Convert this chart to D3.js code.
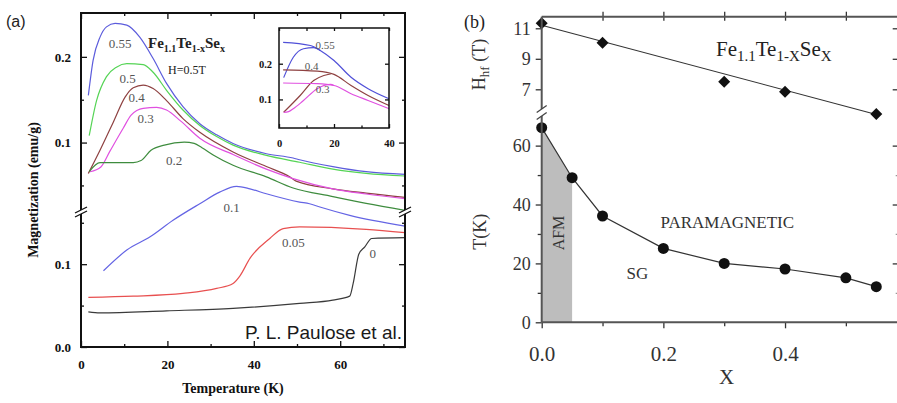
<!DOCTYPE html>
<html>
<head>
<meta charset="utf-8">
<script src="https://cdn.jsdelivr.net/npm/d3@7"></script>
<style>
  body { margin: 0; background: #fff; }
  svg { display: block; }
  .sf { font-family: "Liberation Serif", "DejaVu Serif", "Times New Roman", serif; }
  .ss { font-family: "Liberation Sans", Arial, sans-serif; }
</style>
</head>
<body>
<svg id="fig" width="897" height="403"></svg>
<script>
// ---- panel (a) data: [T (K), M (emu/g)] ----
// upper (broken) section
const c055 = [[1.7,0.155],[2.8,0.196],[4.4,0.223],[5.9,0.235],[7.9,0.239],[10.6,0.237],[13.6,0.223],[16.7,0.198],[19.8,0.169],[23.6,0.142],[27.5,0.122],[31.4,0.109],[35.2,0.099],[42.9,0.087],[49.1,0.082],[50.6,0.080],[58.3,0.072],[66,0.066],[75,0.063]];
const c05  = [[1.9,0.108],[3.6,0.149],[5.9,0.177],[8.2,0.188],[10.6,0.192],[14.4,0.191],[16.7,0.182],[19.8,0.161],[23.6,0.138],[27.5,0.120],[31.4,0.107],[35.2,0.097],[42.9,0.085],[50.6,0.077],[58.3,0.069],[66,0.064],[75,0.061]];
const c04  = [[1.7,0.064],[4.4,0.091],[7.5,0.124],[10.2,0.153],[12.1,0.164],[14.4,0.167],[16.7,0.163],[19.8,0.149],[23.6,0.128],[27.5,0.112],[35.2,0.089],[42.9,0.072],[48.3,0.060],[49.8,0.055],[58.3,0.046],[66,0.041],[75,0.036]];
const c03  = [[2.1,0.066],[4.6,0.0715],[6.7,0.090],[9.8,0.117],[11.6,0.132],[14.4,0.140],[17.5,0.141],[19.8,0.138],[23.1,0.125],[27.5,0.105],[35.2,0.086],[42.9,0.069],[49.1,0.058],[58.3,0.046],[66,0.040],[75,0.0345]];
const c02  = [[1.9,0.066],[4.4,0.0765],[12.1,0.0766],[13.9,0.079],[16.2,0.091],[19.3,0.097],[23.9,0.1005],[26.2,0.099],[28,0.094],[30.8,0.085],[35.2,0.0735],[42.9,0.060],[49.1,0.047],[58.3,0.037],[66,0.029],[75,0.021]];
// lower section
const c01  = [[5.2,0.092],[10.6,0.117],[16,0.133],[21.3,0.153],[27.5,0.173],[32.1,0.187],[36,0.194],[39.1,0.191],[42.9,0.185],[50.6,0.175],[52.9,0.173],[55.3,0.169],[62.2,0.159],[75,0.146]];
const c005 = [[1.7,0.060],[12.1,0.0614],[23.6,0.0647],[31.4,0.0707],[35.2,0.0767],[36.8,0.086],[39.1,0.107],[43.7,0.131],[46.8,0.143],[50.6,0.145],[66,0.142],[75,0.138]];
const c0   = [[1.7,0.0425],[4.4,0.0413],[19.8,0.0437],[35.2,0.0466],[50.6,0.0526],[58.3,0.0566],[62.2,0.0614],[63,0.0767],[64.3,0.112],[65.7,0.121],[67.3,0.131],[75,0.132]];

// inset: field-cooled / zero-field-cooled
const i055fc  = [[1.5,0.26],[11.4,0.251],[15,0.237],[20,0.209],[26.2,0.162],[32.4,0.130],[40,0.102]];
const i055zfc = [[1.7,0.161],[5.2,0.218],[8.9,0.242],[12.6,0.245],[15,0.237]];
const i04fc   = [[1.5,0.183],[13.9,0.179],[20,0.170],[26.2,0.139],[32.4,0.111],[40,0.083]];
const i04zfc  = [[1.7,0.064],[7.7,0.111],[12.6,0.153],[16.3,0.167],[19,0.172]];
const i03fc   = [[1.5,0.146],[13.9,0.144],[20,0.139],[26.2,0.116],[32.4,0.097],[40,0.074]];
const i03zfc  = [[1.7,0.064],[3.5,0.066],[5.2,0.074],[8.9,0.097],[13.9,0.130],[18.8,0.142],[20,0.139]];

const tempTicksA = [0, 20, 40, 60];
const tempMinorA = [10, 30, 50, 70];

// ---- panel (b) data ----
const xHf = [0, 0.1, 0.3, 0.4, 0.55];
const hHf = [11.33, 10.06, 7.5, 6.84, 5.38];
const hfFit = [[0, 11.2], [0.55, 5.35]];
const xTc = [0, 0.05, 0.1, 0.2, 0.3, 0.4, 0.5, 0.55];
const tTc = [66.1, 49.1, 36.1, 25.1, 20.0, 18.1, 15.1, 12.1];
const afmEdge = 0.05;

const svg = d3.select("#fig");
svg.append("rect").attr("width", 897).attr("height", 403).attr("fill", "#fff");

function tidy(g, size, weight, color) {
  g.attr("font-family", null);
  g.select(".domain").remove();
  g.selectAll("line").attr("stroke", color || "#111").attr("stroke-width", 1.3);
  g.selectAll("text").attr("class", "sf").style("font-size", size + "px")
    .style("font-weight", weight || "normal").attr("fill", color || "#111");
  return g;
}
function txt(g, x, y, s, size, opts) {
  opts = opts || {};
  const t = g.append("text").attr("class", opts.sans ? "ss" : "sf")
    .style("font-size", size + "px").style("font-weight", opts.bold ? "bold" : "normal")
    .attr("fill", opts.color || "#222").attr("text-anchor", opts.anchor || "start");
  if (opts.rot) t.attr("transform", `translate(${x},${y}) rotate(-90)`);
  else t.attr("x", x).attr("y", y);
  if (opts.dy) t.attr("dy", opts.dy);
  if (s) t.text(s);
  return t;
}

// ================= panel (a) =================
const xa = d3.scaleLinear().domain([0, 75]).range([81, 405]);
const yaUp = d3.scaleLinear().domain([0.019, 0.25]).range([212, 14]);
const yaLo = d3.scaleLinear().domain([0, 0.163]).range([347, 212]);

const A = svg.append("g");
A.append("clipPath").attr("id", "clipA").append("rect")
  .attr("x", 81).attr("y", 13).attr("width", 324).attr("height", 334);

const upper = [
  {d: c055, c: "#5c5cdc"}, {d: c05, c: "#55d455"}, {d: c04, c: "#8e4141"},
  {d: c03, c: "#e050e0"}, {d: c02, c: "#3e8c3e"}
];
const lower = [
  {d: c01, c: "#6464e4"}, {d: c005, c: "#e85050"}, {d: c0, c: "#3a3a3a"}
];
const lineUp = d3.line().x(d => xa(d[0])).y(d => yaUp(d[1])).curve(d3.curveMonotoneX);
const lineLo = d3.line().x(d => xa(d[0])).y(d => yaLo(d[1])).curve(d3.curveMonotoneX);
const curves = A.append("g").attr("clip-path", "url(#clipA)");
upper.forEach(s => curves.append("path").attr("d", lineUp(s.d)).attr("fill", "none")
  .attr("stroke", s.c).attr("stroke-width", 1.2));
lower.forEach(s => curves.append("path").attr("d", lineLo(s.d)).attr("fill", "none")
  .attr("stroke", s.c).attr("stroke-width", 1.2));

// axes of (a)
tidy(A.append("g").attr("transform", "translate(0,347)")
  .call(d3.axisBottom(xa).tickValues(tempTicksA).tickSize(-6).tickPadding(13)), 13, "bold");
tidy(A.append("g").attr("transform", "translate(0,347)")
  .call(d3.axisBottom(xa).tickValues(tempMinorA).tickSize(-3).tickFormat("")));
tidy(A.append("g").attr("transform", "translate(0,13)")
  .call(d3.axisTop(xa).tickValues(tempTicksA).tickSize(-6).tickFormat("")));
tidy(A.append("g").attr("transform", "translate(0,13)")
  .call(d3.axisTop(xa).tickValues(tempMinorA).tickSize(-3).tickFormat("")));
[[yaLo, [0, 0.1], [0.05, 0.15]], [yaUp, [0.1, 0.2], [0.05, 0.15]]].forEach(([sc, maj, mn]) => {
  tidy(A.append("g").attr("transform", "translate(81,0)")
    .call(d3.axisLeft(sc).tickValues(maj).tickSize(-6).tickPadding(10).tickFormat(d3.format(".1f"))), 13, "bold");
  tidy(A.append("g").attr("transform", "translate(81,0)")
    .call(d3.axisLeft(sc).tickValues(mn).tickSize(-3).tickFormat("")));
  tidy(A.append("g").attr("transform", "translate(405,0)")
    .call(d3.axisRight(sc).tickValues(maj).tickSize(-6).tickFormat("")));
  tidy(A.append("g").attr("transform", "translate(405,0)")
    .call(d3.axisRight(sc).tickValues(mn).tickSize(-3).tickFormat("")));
});
A.append("rect").attr("x", 81).attr("y", 13).attr("width", 324).attr("height", 334)
  .attr("fill", "none").attr("stroke", "#111").attr("stroke-width", 2);

function breakMark(g, x0, y0, w, h, gap, sw) {
  g.append("polygon")
    .attr("points", [[x0 - w, y0 + h], [x0 + w, y0 - h], [x0 + w, y0 - h + gap], [x0 - w, y0 + h + gap]].join(" "))
    .attr("fill", "#fff");
  [0, gap].forEach(o => g.append("line")
    .attr("x1", x0 - w).attr("y1", y0 + h + o).attr("x2", x0 + w).attr("y2", y0 - h + o)
    .attr("stroke", "#111").attr("stroke-width", sw));
}
breakMark(A, 81, 210, 6, 3, 4, 1.3);
breakMark(A, 405, 210, 6, 3, 4, 1.3);

// inset
const xi = d3.scaleLinear().domain([0, 40]).range([279, 389]);
const yi = d3.scaleLinear().domain([0.02, 0.3]).range([128, 28]);
A.append("rect").attr("x", 279).attr("y", 28).attr("width", 110).attr("height", 100).attr("fill", "#fff");
const lineI = d3.line().x(d => xi(d[0])).y(d => yi(d[1])).curve(d3.curveMonotoneX);
[[i055fc, "#5050d8"], [i055zfc, "#5050d8"], [i04fc, "#8e4141"], [i04zfc, "#8e4141"],
 [i03fc, "#e050e0"], [i03zfc, "#e050e0"]].forEach(([d, c]) =>
  A.append("path").attr("d", lineI(d)).attr("fill", "none").attr("stroke", c).attr("stroke-width", 1.2));
tidy(A.append("g").attr("transform", "translate(0,128)")
  .call(d3.axisBottom(xi).tickValues([0, 20, 40]).tickSize(-4).tickPadding(12)), 10.5, "bold");
tidy(A.append("g").attr("transform", "translate(0,128)")
  .call(d3.axisBottom(xi).tickValues([10, 30]).tickSize(-2.5).tickFormat("")));
tidy(A.append("g").attr("transform", "translate(0,28)")
  .call(d3.axisTop(xi).tickValues([0, 10, 20, 30, 40]).tickSize(-3).tickFormat("")));
tidy(A.append("g").attr("transform", "translate(279,0)")
  .call(d3.axisLeft(yi).tickValues([0.1, 0.2]).tickSize(-4).tickPadding(7).tickFormat(d3.format(".1f"))), 10.5, "bold");
tidy(A.append("g").attr("transform", "translate(389,0)")
  .call(d3.axisRight(yi).tickValues([0.1, 0.2]).tickSize(-4).tickFormat("")));
A.append("rect").attr("x", 279).attr("y", 28).attr("width", 110).attr("height", 100)
  .attr("fill", "none").attr("stroke", "#111").attr("stroke-width", 1.5);

// labels (a)
const labA = [["0.55", 120, 43], ["0.5", 127.7, 78], ["0.4", 136.7, 97], ["0.3", 145.7, 118],
  ["0.2", 174, 160], ["0.1", 231.7, 207], ["0.05", 293.3, 242], ["0", 372.7, 253]];
labA.forEach(([t, x, y]) => txt(A, x, y, t, 13, {anchor: "middle", dy: "0.35em", color: "#555"}));
[["0.55", 325, 45], ["0.4", 311.7, 66], ["0.3", 322.7, 89]].forEach(([t, x, y]) =>
  txt(A, x, y, t, 11, {anchor: "middle", dy: "0.35em", color: "#555"}));

const ttl = txt(A, 148, 48, null, 15, {bold: true});
ttl.append("tspan").text("Fe");
ttl.append("tspan").style("font-size", "10px").attr("dy", 4).text("1.1");
ttl.append("tspan").attr("dy", -4).text("Te");
ttl.append("tspan").style("font-size", "10px").attr("dy", 4).text("1-x");
ttl.append("tspan").attr("dy", -4).text("Se");
ttl.append("tspan").style("font-size", "10px").attr("dy", 4).text("x");
txt(A, 168, 74, "H=0.5T", 12);

txt(A, 233, 393, "Temperature (K)", 14, {anchor: "middle", bold: true, color: "#111"});
txt(A, 38, 190, "Magnetization (emu/g)", 14, {anchor: "middle", bold: true, color: "#111", rot: true});
txt(A, 402, 339, "P. L. Paulose et al.", 19, {anchor: "end", sans: true, color: "#1a1a1a"});
txt(A, 6, 27, "(a)", 16, {sans: true});

// ================= panel (b) =================
const xb = d3.scaleLinear().domain([0, 0.6]).range([541.7, 906.7]);
const ybH = d3.scaleLinear().domain([5.84, 11.76]).range([107, 16.7]);
const ybT = d3.scaleLinear().domain([0, 68.7]).range([322.3, 120]);
const B = svg.append("g");
const ink = "#333";

const tcPts = xTc.map((x, i) => [x, tTc[i]]);
const afmPts = tcPts.filter(d => d[0] <= afmEdge);
B.append("path").attr("d", d3.area().x(d => xb(d[0])).y0(ybT(0)).y1(d => ybT(d[1]))(afmPts))
  .attr("fill", "#bdbdbd");

B.append("path").attr("d", d3.line().x(d => xb(d[0])).y(d => ybT(d[1]))(tcPts))
  .attr("fill", "none").attr("stroke", ink).attr("stroke-width", 1.2);
B.selectAll("circle.tc").data(tcPts).join("circle").attr("class", "tc")
  .attr("cx", d => xb(d[0])).attr("cy", d => ybT(d[1])).attr("r", 5.5).attr("fill", "#111");

B.append("path").attr("d", d3.line().x(d => xb(d[0])).y(d => ybH(d[1]))(hfFit))
  .attr("fill", "none").attr("stroke", ink).attr("stroke-width", 1.1);
const diamond = d3.symbol(d3.symbolSquare, 72);
B.selectAll("path.hf").data(xHf.map((x, i) => [x, hHf[i]])).join("path").attr("class", "hf")
  .attr("d", diamond).attr("fill", "#111")
  .attr("transform", d => `translate(${xb(d[0])},${ybH(d[1])}) rotate(45)`);

// axes of (b)
tidy(B.append("g").attr("transform", "translate(0,322.3)")
  .call(d3.axisBottom(xb).tickValues([0, 0.2, 0.4]).tickSize(6).tickPadding(18).tickFormat(d3.format(".1f"))), 21, "normal", ink);
tidy(B.append("g").attr("transform", "translate(0,322.3)")
  .call(d3.axisBottom(xb).tickValues([0.1, 0.3, 0.5]).tickSize(4).tickFormat("")), 0, "normal", ink);
tidy(B.append("g").attr("transform", "translate(0,20.7)")
  .call(d3.axisTop(xb).tickValues([0.1, 0.2, 0.3, 0.4, 0.5]).tickSize(9).tickFormat("")), 0, "normal", ink);
tidy(B.append("g").attr("transform", "translate(541.7,0)")
  .call(d3.axisLeft(ybH).tickValues([7, 9, 11]).tickSize(6).tickPadding(5).tickFormat(d3.format("d"))), 18, "normal", ink);
tidy(B.append("g").attr("transform", "translate(541.7,0)")
  .call(d3.axisLeft(ybT).tickValues([0, 20, 40, 60]).tickSize(6).tickPadding(5).tickFormat(d3.format("d"))), 18, "normal", ink);
tidy(B.append("g").attr("transform", "translate(541.7,0)")
  .call(d3.axisLeft(ybT).tickValues([10, 30, 50]).tickSize(4).tickFormat("")), 0, "normal", ink);
// right axis sits just beyond the cropped edge
tidy(B.append("g").attr("transform", "translate(906.7,0)")
  .call(d3.axisLeft(ybH).tickValues([7, 9, 11]).tickSize(14).tickFormat("")), 0, "normal", ink);
tidy(B.append("g").attr("transform", "translate(906.7,0)")
  .call(d3.axisLeft(ybT).tickValues([20, 40, 60]).tickSize(14).tickFormat("")), 0, "normal", ink);
tidy(B.append("g").attr("transform", "translate(906.7,0)")
  .call(d3.axisLeft(ybT).tickValues([10, 30, 50]).tickSize(11).tickFormat("")), 0, "normal", "#999");

B.append("line").attr("x1", 541.7).attr("x2", 897).attr("y1", 322.3).attr("y2", 322.3)
  .attr("stroke", "#555").attr("stroke-width", 2);
B.append("line").attr("x1", 541.7).attr("x2", 897).attr("y1", 16.7).attr("y2", 16.7)
  .attr("stroke", "#555").attr("stroke-width", 2);
B.append("line").attr("x1", 541.7).attr("x2", 541.7).attr("y1", 16.7).attr("y2", 109)
  .attr("stroke", "#555").attr("stroke-width", 2);
B.append("line").attr("x1", 541.7).attr("x2", 541.7).attr("y1", 116).attr("y2", 322.3)
  .attr("stroke", "#555").attr("stroke-width", 2);
[109, 116].forEach(y => B.append("line").attr("x1", 536.7).attr("y1", y + 3.5)
  .attr("x2", 546.7).attr("y2", y - 3.5).attr("stroke", "#444").attr("stroke-width", 1.3));

// labels (b)
txt(B, 464, 28, "(b)", 18);
const fb = txt(B, 716, 56, null, 21);
fb.append("tspan").text("Fe");
fb.append("tspan").style("font-size", "15px").attr("dy", 5).text("1.1");
fb.append("tspan").attr("dy", -5).text("Te");
fb.append("tspan").style("font-size", "15px").attr("dy", 5).text("1-X");
fb.append("tspan").attr("dy", -5).text("Se");
fb.append("tspan").style("font-size", "15px").attr("dy", 5).text("X");

const hl = txt(B, 485, 64.5, null, 18, {anchor: "middle", rot: true, color: ink});
hl.append("tspan").text("H");
hl.append("tspan").style("font-size", "13px").attr("dy", 4).text("hf");
hl.append("tspan").attr("dy", -4).text(" (T)");
txt(B, 486, 231.7, "T(K)", 18, {anchor: "middle", rot: true, color: ink});
txt(B, 564, 233, "AFM", 16, {anchor: "middle", rot: true, color: ink});
txt(B, 727.3, 221.7, "PARAMAGNETIC", 17, {anchor: "middle", dy: "0.35em", color: ink});
txt(B, 637.3, 273.3, "SG", 17, {anchor: "middle", dy: "0.35em", color: ink});
txt(B, 726.7, 384, "X", 21, {anchor: "middle", color: ink});
</script>
</body>
</html>
